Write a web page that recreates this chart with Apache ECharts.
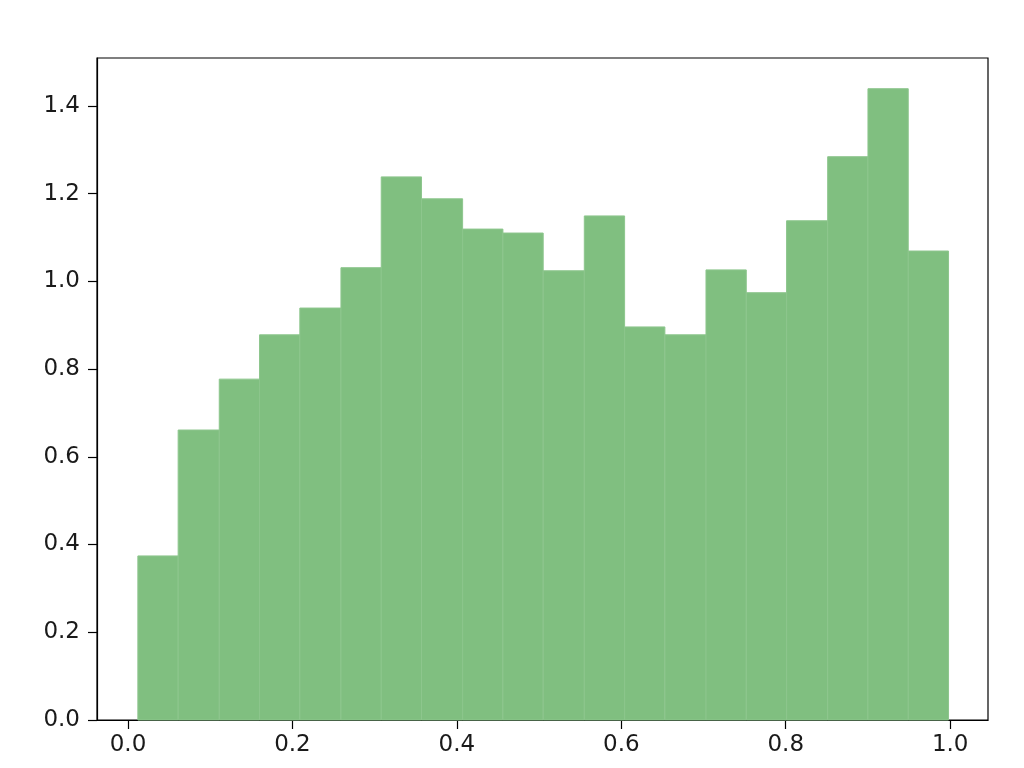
<!DOCTYPE html>
<html>
<head>
<meta charset="utf-8">
<script src="https://cdn.jsdelivr.net/npm/echarts@6/dist/echarts.min.js"></script>
<style>
  html, body { margin: 0; padding: 0; background: #fff; }
  #chart { width: 1024px; height: 768px; }
</style>
</head>
<body>
<div id="chart"></div>
<script>
// bin edges and density heights of the histogram
const binEdges = [0.012, 0.061, 0.111, 0.160, 0.209, 0.259, 0.308, 0.357, 0.407, 0.456, 0.505,
  0.555, 0.604, 0.653, 0.703, 0.752, 0.801, 0.851, 0.900, 0.949, 0.998];
const densities = [0.374, 0.661, 0.777, 0.878, 0.939, 1.031, 1.238, 1.188, 1.119, 1.110,
  1.024, 1.149, 0.896, 0.878, 1.026, 0.974, 1.138, 1.284, 1.439, 1.069];
const xTicks = [0, 0.2, 0.4, 0.6, 0.8, 1.0];
const yTicks = [0, 0.2, 0.4, 0.6, 0.8, 1.0, 1.2, 1.4];

const chart = echarts.init(document.getElementById("chart"));

const bins = densities.map((h, i) => [binEdges[i], binEdges[i + 1], h]);

const labelStyle = {
  color: "#1a1a1a",
  fontSize: 23,
  fontFamily: "DejaVu Sans",
  formatter: (v) => Number(v).toFixed(1),
};

const option = {
  animation: false,
  grid: {
    left: 97,
    right: 36,
    top: 58,
    bottom: 48,
    show: true,
    borderColor: "#000",
    borderWidth: 1.2,
    backgroundColor: "transparent",
  },
  xAxis: {
    type: "value",
    min: -0.0377,
    max: 1.046,
    splitLine: { show: false },
    axisLine: { show: true, onZero: false, lineStyle: { color: "#000", width: 1.2 } },
    axisTick: { show: true, inside: false, length: 9, customValues: xTicks, lineStyle: { color: "#000", width: 1.2 } },
    axisLabel: Object.assign({ customValues: xTicks, margin: 14 }, labelStyle),
  },
  yAxis: {
    type: "value",
    min: 0,
    max: 1.509,
    splitLine: { show: false },
    axisLine: { show: true, onZero: false, lineStyle: { color: "#000", width: 1.2 } },
    axisTick: { show: true, inside: false, length: 9, customValues: yTicks, lineStyle: { color: "#000", width: 1.2 } },
    axisLabel: Object.assign({ customValues: yTicks, margin: 17 }, labelStyle),
  },
  series: [
    {
      type: "custom",
      data: bins,
      renderItem: function (params, api) {
        const p0 = api.coord([api.value(0), api.value(2)]);
        const p1 = api.coord([api.value(1), 0]);
        return {
          type: "rect",
          shape: { x: p0[0], y: p0[1], width: p1[0] - p0[0], height: p1[1] - p0[1] },
          style: { fill: "#80bf80", stroke: "#8dc68d", lineWidth: 1 },
        };
      },
      encode: { x: [0, 1], y: 2 },
    },
  ],
};

chart.setOption(option);
</script>
</body>
</html>
